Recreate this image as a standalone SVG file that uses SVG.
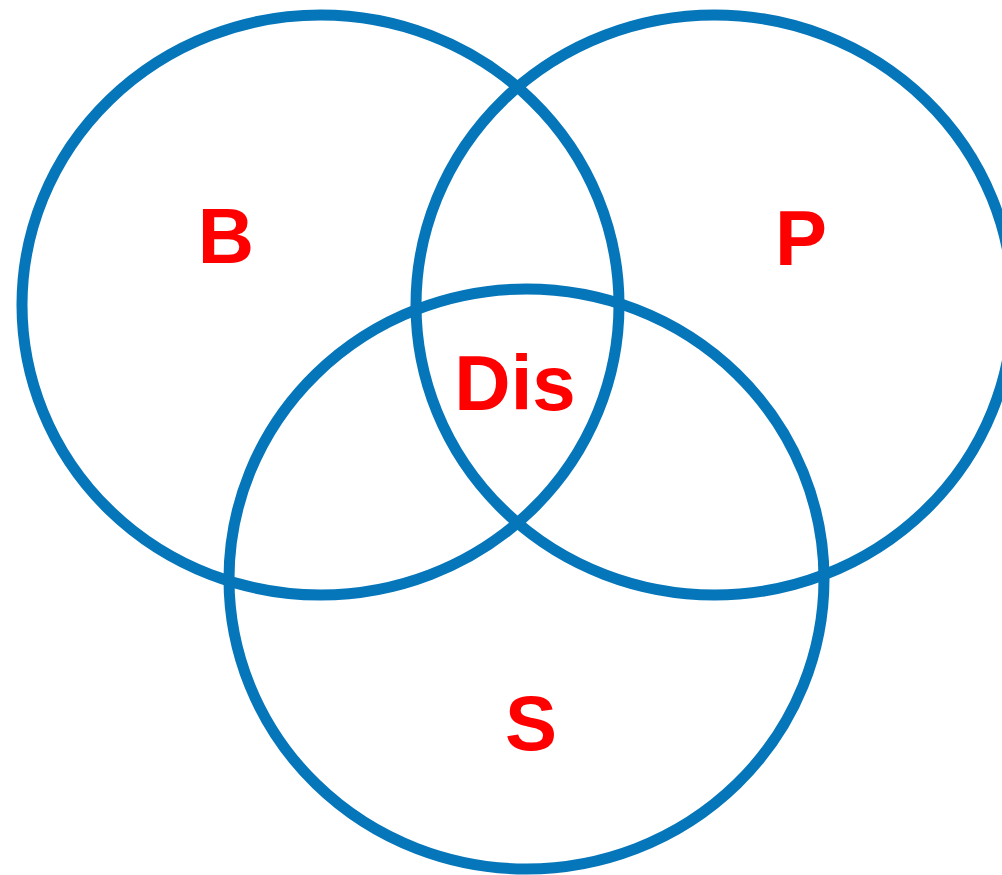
<svg xmlns="http://www.w3.org/2000/svg" width="1002" height="875" viewBox="0 0 1002 875">
<style>
.c{fill:none;stroke:#0576BA;stroke-width:11}
.t{fill:#FF0000;font-family:"Liberation Sans",Arial,sans-serif;font-weight:bold;font-size:78px;text-anchor:middle}
</style>
<rect width="1002" height="875" fill="#FFFFFF"/>
<g id="B"><ellipse class="c" cx="320.5" cy="305" rx="298.5" ry="290"/></g>
<g id="P"><ellipse class="c" cx="714.5" cy="305" rx="298.5" ry="290"/></g>
<g id="S"><ellipse class="c" cx="526.5" cy="579" rx="297.5" ry="290"/></g>
<g id="labels">
<text class="t" x="226" y="263">B</text>
<text class="t" x="801" y="265">P</text>
<text class="t" x="515" y="410">Dis</text>
<text class="t" x="531" y="750">S</text>
</g>
</svg>
